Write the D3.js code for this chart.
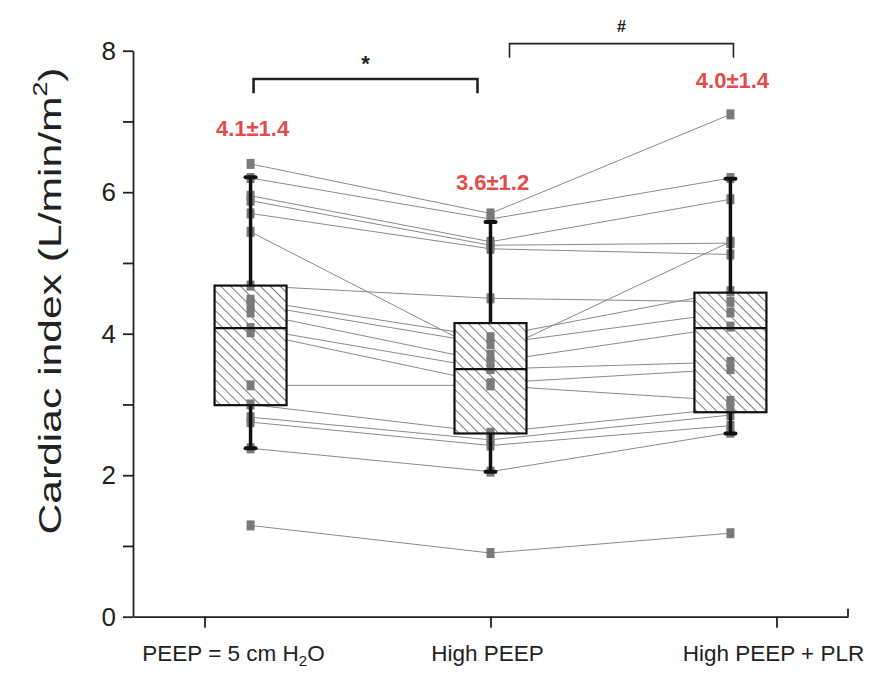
<!DOCTYPE html>
<html>
<head>
<meta charset="utf-8">
<script src="https://cdn.jsdelivr.net/npm/d3@7"></script>
<style>
  body { margin: 0; background: #fff; }
  svg { font-family: "Liberation Sans", Arial, sans-serif; }
</style>
</head>
<body>
<svg id="chart"></svg>
<script>
// conditions along the x axis
const conditions = ["PEEP = 5 cm H2O", "High PEEP", "High PEEP + PLR"];
const meanLabels = ["4.1±1.4", "3.6±1.2", "4.0±1.4"];

// one value per patient, same order in each array
const peep5       = [6.40, 6.20, 5.95, 5.88, 5.70, 5.44, 4.68, 4.48, 4.42, 4.30, 4.08, 4.02, 3.27, 3.00, 2.82, 2.75, 2.38, 1.29];
const highPeep    = [5.70, 5.62, 5.30, 5.25, 5.20, 3.70, 4.50, 3.95, 3.85, 3.60, 3.50, 3.30, 3.27, 2.60, 2.50, 2.42, 2.05, 0.90];
const highPeepPlr = [7.10, 6.20, 5.90, 5.28, 5.12, 5.30, 4.45, 4.60, 4.30, 4.10, 3.60, 3.50, 3.05, 2.95, 2.85, 2.70, 2.60, 1.18];

// box statistics
const whiskerLow  = [2.38, 2.05, 2.59];
const quartile1   = [2.99, 2.59, 2.89];
const medians     = [4.08, 3.50, 4.08];
const quartile3   = [4.68, 4.15, 4.58];
const whiskerHigh = [6.21, 5.58, 6.19];

const yTicks = [0, 1, 2, 3, 4, 5, 6, 7, 8];

class PairedBoxPlot {
  constructor(_config) {
    this.config = {
      parentElement: _config.parentElement,
      width: 890,
      height: 674,
      left: 133, right: 848,
      top: 50.7, bottom: 616.7
    };
    this.series = [peep5, highPeep, highPeepPlr];
    this.initVis();
  }

  initVis() {
    let vis = this;
    const c = vis.config;

    vis.svg = d3.select(c.parentElement)
      .attr('width', c.width)
      .attr('height', c.height);

    vis.yScale = d3.scaleLinear().domain([0, 8]).range([c.bottom, c.top]);
    // tick positions and box positions don't share spacing in the original
    vis.xTick = d3.scalePoint().domain(conditions).range([c.left, c.right]).padding(0.25);
    vis.xBox = d3.scalePoint().domain(conditions).range([c.left, c.right]).padding(0.49);
    vis.boxWidth = 72;

    const defs = vis.svg.append('defs');
    defs.append('pattern')
      .attr('id', 'hatch')
      .attr('patternUnits', 'userSpaceOnUse')
      .attr('width', 7).attr('height', 7)
      .attr('patternTransform', 'rotate(-45)')
      .append('line')
        .attr('x1', 0).attr('y1', 0).attr('x2', 0).attr('y2', 7)
        .attr('stroke', '#333').attr('stroke-width', 1.3);

    vis.renderVis();
  }

  renderVis() {
    let vis = this;
    const c = vis.config;
    const y = vis.yScale;

    // y axis
    const yAxisG = vis.svg.append('g')
      .attr('transform', `translate(${c.left},0)`)
      .call(d3.axisLeft(y).tickValues(yTicks).tickSize(10).tickSizeOuter(0)
        .tickFormat(d => d % 2 ? '' : d));
    yAxisG.selectAll('path, line').attr('stroke', '#222').attr('stroke-width', 1.8);
    yAxisG.selectAll('text')
      .attr('x', -17)
      .attr('font-size', 26)
      .attr('font-family', '"Liberation Sans", Arial, sans-serif')
      .attr('fill', '#222');

    // x axis
    const xAxisG = vis.svg.append('g')
      .attr('transform', `translate(0,${c.bottom})`)
      .call(d3.axisBottom(vis.xTick).tickSize(11).tickSizeOuter(0).tickFormat(''));
    xAxisG.selectAll('path, line').attr('stroke', '#222').attr('stroke-width', 1.8);
    xAxisG.append('line')
      .attr('x1', c.right).attr('x2', c.right)
      .attr('y1', -8).attr('y2', 0)
      .attr('stroke', '#222').attr('stroke-width', 1.8);

    const xLabels = vis.svg.append('g').selectAll('text')
      .data(conditions)
      .join('text')
        .attr('x', (d, i) => vis.xTick(d) + (i === 0 ? 29 : -3))
        .attr('y', 661)
        .attr('text-anchor', 'middle')
        .attr('font-size', 22.5)
        .attr('fill', '#222');
    xLabels.each(function(d) {
      const t = d3.select(this);
      const m = d.match(/^(.*H)2(O)$/);
      if (m) {
        t.append('tspan').text(m[1]);
        t.append('tspan').attr('font-size', 15).attr('dy', 5).text('2');
        t.append('tspan').attr('dy', -5).text(m[2]);
      } else {
        t.text(d);
      }
    });

    // y title
    const title = vis.svg.append('text')
      .attr('transform', `translate(61,301) rotate(-90)`)
      .attr('text-anchor', 'middle')
      .attr('font-size', 32)
      .attr('fill', '#222')
      .attr('textLength', 467)
      .attr('lengthAdjust', 'spacingAndGlyphs');
    title.append('tspan').text('Cardiac index (L/min/m');
    title.append('tspan').attr('font-size', 20).attr('dy', -14).text('2');
    title.append('tspan').attr('dy', 14).text(')');

    // patient lines
    const patients = d3.range(peep5.length).map(i => vis.series.map(s => s[i]));
    const line = d3.line()
      .x((d, i) => vis.xBox(conditions[i]))
      .y(d => y(d));
    vis.svg.append('g').selectAll('path')
      .data(patients)
      .join('path')
        .attr('d', line)
        .attr('fill', 'none')
        .attr('stroke', '#8a8a8a')
        .attr('stroke-width', 1);

    // boxes
    const bw = vis.boxWidth;
    const boxes = vis.svg.append('g').selectAll('g')
      .data(conditions)
      .join('g')
        .attr('transform', d => `translate(${vis.xBox(d)},0)`);

    boxes.append('rect')
      .attr('x', -bw / 2).attr('width', bw)
      .attr('y', (d, i) => y(quartile3[i]))
      .attr('height', (d, i) => y(quartile1[i]) - y(quartile3[i]))
      .attr('fill', '#fff');
    boxes.append('rect')
      .attr('x', -bw / 2).attr('width', bw)
      .attr('y', (d, i) => y(quartile3[i]))
      .attr('height', (d, i) => y(quartile1[i]) - y(quartile3[i]))
      .attr('fill', 'url(#hatch)');

    // points
    boxes.each(function(d, i) {
      d3.select(this).selectAll('rect.pt')
        .data(vis.series[i])
        .join('rect')
          .attr('class', 'pt')
          .attr('x', -4).attr('width', 8)
          .attr('y', v => y(v) - 5).attr('height', 10)
          .attr('fill', '#7a7a7a');
    });

    // whiskers
    boxes.append('line')
      .attr('y1', (d, i) => y(whiskerHigh[i])).attr('y2', (d, i) => y(quartile3[i]))
      .attr('stroke', '#111').attr('stroke-width', 3.5);
    boxes.append('line')
      .attr('y1', (d, i) => y(quartile1[i])).attr('y2', (d, i) => y(whiskerLow[i]))
      .attr('stroke', '#111').attr('stroke-width', 3.5);
    [whiskerHigh, whiskerLow].forEach(arr => {
      boxes.append('line')
        .attr('x1', -5).attr('x2', 5)
        .attr('y1', (d, i) => y(arr[i])).attr('y2', (d, i) => y(arr[i]))
        .attr('stroke', '#111').attr('stroke-width', 4)
        .attr('stroke-linecap', 'round');
    });

    boxes.append('rect')
      .attr('x', -bw / 2).attr('width', bw)
      .attr('y', (d, i) => y(quartile3[i]))
      .attr('height', (d, i) => y(quartile1[i]) - y(quartile3[i]))
      .attr('fill', 'none')
      .attr('stroke', '#111').attr('stroke-width', 2.2);
    boxes.append('line')
      .attr('x1', -bw / 2).attr('x2', bw / 2)
      .attr('y1', (d, i) => y(medians[i])).attr('y2', (d, i) => y(medians[i]))
      .attr('stroke', '#111').attr('stroke-width', 2.2);

    // mean ± SD labels
    const labelAt = [6.8, 6.03, 7.47];
    vis.svg.append('g').selectAll('text')
      .data(meanLabels)
      .join('text')
        .attr('x', (d, i) => vis.xBox(conditions[i]) + 2)
        .attr('y', (d, i) => y(labelAt[i]))
        .attr('text-anchor', 'middle')
        .attr('font-size', 22)
        .attr('font-weight', 'bold')
        .attr('fill', '#e34a4a')
        .text(d => d);

    // significance brackets
    const brackets = [
      { x1: vis.xBox(conditions[0]) + 3, x2: vis.xBox(conditions[1]) - 13, top: 7.6, leg: 7.4, mark: '*', w: 2.6 },
      { x1: vis.xBox(conditions[1]) + 19, x2: vis.xBox(conditions[2]) + 3, top: 8.1, leg: 7.9, mark: '#', w: 1.6 }
    ];
    brackets.forEach(b => {
      vis.svg.append('path')
        .attr('d', `M${b.x1},${y(b.leg)}V${y(b.top)}H${b.x2}V${y(b.leg)}`)
        .attr('fill', 'none')
        .attr('stroke', '#222')
        .attr('stroke-width', b.w);
      vis.svg.append('text')
        .attr('x', (b.x1 + b.x2) / 2)
        .attr('y', y(b.top) - (b.mark === '*' ? 8 : 12))
        .attr('text-anchor', 'middle')
        .attr('font-size', b.mark === '*' ? 22 : 16)
        .attr('font-weight', 'bold')
        .attr('fill', '#222')
        .text(b.mark);
    });
  }
}

new PairedBoxPlot({ parentElement: '#chart' });
</script>
</body>
</html>
